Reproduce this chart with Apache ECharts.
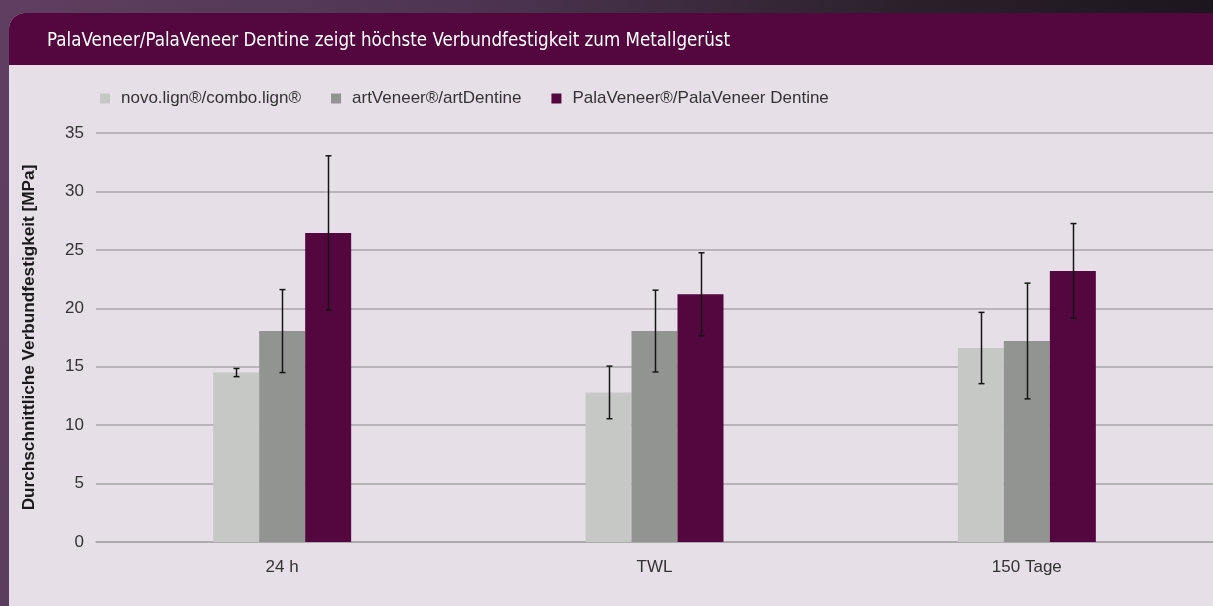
<!DOCTYPE html>
<html>
<head>
<meta charset="utf-8">
<script src="https://cdn.jsdelivr.net/npm/echarts@6/dist/echarts.min.js"></script>
<style>
  html, body { margin: 0; padding: 0; width: 1213px; height: 606px; overflow: hidden; }
  body { background: linear-gradient(100deg, #5f3f61 0%, #4e3553 35%, #2a2029 70%, #17121a 100%); position: relative; }
  #card { position: absolute; left: 9px; top: 13px; width: 1204px; height: 593px; border-top-left-radius: 16px; overflow: hidden; background: #e6dfe7; }
  #bar { position: absolute; left: 0; top: 0; width: 100%; height: 52px; background: #54063f; }
  #chart { position: absolute; left: 0; top: 0; width: 1213px; height: 606px; }
</style>
</head>
<body>
<div id="card"><div id="bar"></div></div>
<div id="chart"></div>
<script>
// ---- data ----
const categories = ['24 h', 'TWL', '150 Tage'];
const seriesNames = ['novo.lign®/combo.lign®', 'artVeneer®/artDentine', 'PalaVeneer®/PalaVeneer Dentine'];
const novoValues = [14.5, 12.8, 16.6];
const novoErrors = [0.35, 2.25, 3.05];
const artValues = [18.05, 18.05, 17.2];
const artErrors = [3.55, 3.5, 4.95];
const palaValues = [26.45, 21.2, 23.2];
const palaErrors = [6.6, 3.55, 4.05];
const yTicks = [0, 5, 10, 15, 20, 25, 30, 35];

const colors = ['#c6c8c6', '#929492', '#54063f'];
const BAR_W = 46;
const FONT = '"Liberation Sans", Arial, Helvetica, sans-serif';

const chart = echarts.init(document.getElementById('chart'), null, { renderer: 'canvas' });

const valueSets = [novoValues, artValues, palaValues];
const errorSets = [novoErrors, artErrors, palaErrors];

const barSeries = valueSets.map((vals, i) => ({
  name: seriesNames[i],
  type: 'bar',
  data: vals,
  barWidth: BAR_W,
  barGap: '0%',
  itemStyle: { color: colors[i] },
  z: 2
}));

const errSeries = valueSets.map((vals, i) => ({
  type: 'custom',
  name: 'err' + i,
  data: vals.map((v, k) => [k, v - errorSets[i][k], v + errorSets[i][k]]),
  z: 5,
  silent: true,
  renderItem: function (params, api) {
    const off = (i - 1) * BAR_W;
    const lo = api.coord([api.value(0), api.value(1)]);
    const hi = api.coord([api.value(0), api.value(2)]);
    const x = Math.round(lo[0] + off) + 0.5;
    const cap = 3;
    const style = { stroke: '#151515', lineWidth: 1.5 };
    return {
      type: 'group',
      children: [
        { type: 'line', shape: { x1: x, y1: hi[1], x2: x, y2: lo[1] }, style: style },
        { type: 'line', shape: { x1: x - cap, y1: hi[1], x2: x + cap, y2: hi[1] }, style: style },
        { type: 'line', shape: { x1: x - cap, y1: lo[1], x2: x + cap, y2: lo[1] }, style: style }
      ]
    };
  }
}));

chart.setOption({
  animation: false,
  backgroundColor: 'transparent',
  title: {
    text: 'PalaVeneer/PalaVeneer Dentine zeigt höchste Verbundfestigkeit zum Metallgerüst',
    left: 42,
    top: 27,
    textStyle: { color: '#ffffff', fontFamily: '"Liberation Sans Narrow", "DejaVu Sans Condensed", sans-serif', fontSize: 18.6, fontWeight: 'normal' }
  },
  legend: {
    data: seriesNames,
    left: 95,
    top: 85,
    itemWidth: 10,
    itemHeight: 10,
    itemGap: 30,
    icon: 'rect',
    textStyle: { color: '#333333', fontFamily: FONT, fontSize: 17, padding: [0, 0, 0, 6] }
  },
  grid: { left: 96, right: 0, top: 133, bottom: 64, containLabel: false },
  xAxis: {
    type: 'category',
    data: categories,
    axisTick: { show: false },
    axisLine: { show: true, lineStyle: { color: '#a9a6aa', width: 1.5 } },
    axisLabel: { color: '#333333', fontFamily: FONT, fontSize: 17, margin: 17 }
  },
  yAxis: {
    type: 'value',
    min: yTicks[0],
    max: yTicks[yTicks.length - 1],
    interval: 5,
    name: 'Durchschnittliche Verbundfestigkeit [MPa]',
    nameLocation: 'middle',
    nameRotate: 90,
    nameGap: 58,
    nameTextStyle: { color: '#1a1a1a', fontFamily: FONT, fontSize: 17.2, fontWeight: 'bold' },
    axisLine: { show: false },
    axisTick: { show: false },
    axisLabel: { color: '#333333', fontFamily: FONT, fontSize: 17, margin: 12 },
    splitLine: { show: true, lineStyle: { color: '#a9a6aa', width: 1.5 } }
  },
  series: barSeries.concat(errSeries)
});
</script>
</body>
</html>
